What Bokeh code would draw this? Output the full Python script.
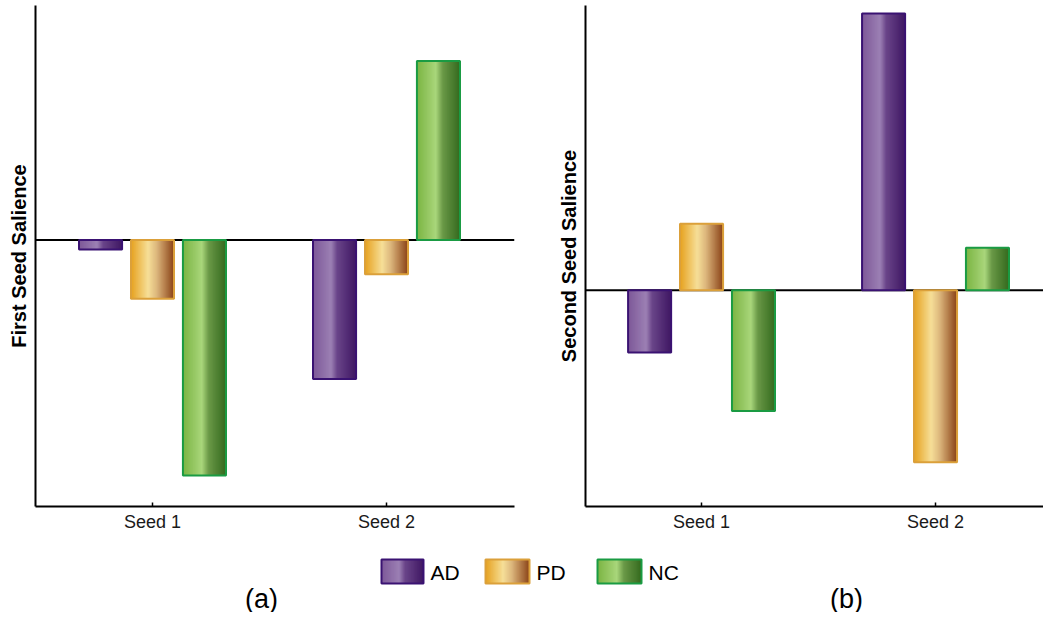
from bokeh.plotting import figure
from bokeh.models import Span, FixedTicker, Range1d, ColumnDataSource
from bokeh.layouts import column, row
from bokeh.embed import file_html
from bokeh.resources import INLINE
from bokeh.core.properties import value

# ---------------- data ----------------
categories = ["Seed 1", "Seed 2"]
groups = ["AD", "PD", "NC"]

first_ad = [-0.04, -0.59]
first_pd = [-0.25, -0.145]
first_nc = [-1.00, 0.76]

second_ad = [-0.265, 1.175]
second_pd = [0.282, -0.731]
second_nc = [-0.513, 0.180]

# ---------------- styles ----------------
FONT = "Liberation Sans"
stops = {
    "AD": [(0.0, "#7d5898"), (0.42, "#9c80b4"), (0.56, "#6a4589"), (1.0, "#3f1763")],
    "PD": [(0.0, "#e6a11f"), (0.40, "#f6df98"), (0.60, "#dcb67c"), (1.0, "#8a4217")],
    "NC": [(0.0, "#7bb443"), (0.44, "#a9d67b"), (0.60, "#6a9847"), (1.0, "#346a1e")],
}
outline = {"AD": "#3a1272", "PD": "#dba03a", "NC": "#1a9b43"}

BAR_W = 0.184
OFFSET = 0.222
NSTRIPE = 40


def hex2rgb(h):
    h = h.lstrip("#")
    return tuple(int(h[i:i + 2], 16) for i in (0, 2, 4))


def interp(st, t):
    for (t0, c0), (t1, c1) in zip(st[:-1], st[1:]):
        if t0 <= t <= t1:
            f = (t - t0) / (t1 - t0)
            a, b = hex2rgb(c0), hex2rgb(c1)
            return "#%02x%02x%02x" % tuple(int(round(a[k] + (b[k] - a[k]) * f)) for k in range(3))
    return st[-1][1]


def stripes(x0, w):
    dw = w / NSTRIPE
    L, R = [], []
    for j in range(NSTRIPE):
        L.append(x0 + j * dw)
        R.append(min(x0 + (j + 3) * dw, x0 + w))
    return L, R


def gradient_bars(p, centers, vals, g, w):
    L, R, T, B, C = [], [], [], [], []
    for c, v in zip(centers, vals):
        top, bot = max(v, 0), min(v, 0)
        l, r = stripes(c - w / 2, w)
        L += l
        R += r
        T += [top] * NSTRIPE
        B += [bot] * NSTRIPE
        C += [interp(stops[g], (j + 0.5) / NSTRIPE) for j in range(NSTRIPE)]
    p.quad(left="l", right="r", top="t", bottom="b", fill_color="c", line_color=None,
           source=ColumnDataSource(dict(l=L, r=R, t=T, b=B, c=C)))


def panel(series, ylabel, width, height, xr, yr, border_left, border_right):
    p = figure(width=width, height=height, output_backend="svg", toolbar_location=None,
               x_range=Range1d(*xr), y_range=Range1d(*yr),
               min_border_left=border_left, min_border_right=border_right,
               min_border_top=5, min_border_bottom=32)
    p.outline_line_color = None
    p.xgrid.visible = False
    p.ygrid.visible = False
    p.background_fill_color = "white"
    p.border_fill_color = "white"

    p.add_layout(Span(location=0, dimension="width", line_color="black", line_width=2,
                      level="underlay"))

    for k, g in enumerate(groups):
        vals = series[g]
        centers = [i + (k - 1) * OFFSET for i in range(len(categories))]
        gradient_bars(p, centers, vals, g, BAR_W)
        p.quad(left=[c - BAR_W / 2 for c in centers], right=[c + BAR_W / 2 for c in centers],
               top=[max(v, 0) for v in vals], bottom=[min(v, 0) for v in vals],
               fill_color=None, line_color=outline[g], line_width=2)

    xa = p.xaxis[0]
    xa.ticker = FixedTicker(ticks=list(range(len(categories))))
    xa.major_label_overrides = {i: c for i, c in enumerate(categories)}
    xa.axis_line_width = 2
    xa.axis_line_color = "black"
    xa.major_tick_in = 4
    xa.major_tick_out = 0
    xa.major_tick_line_width = 1.5
    xa.minor_tick_line_color = None
    xa.major_label_text_font = FONT
    xa.major_label_text_font_size = "18px"
    xa.major_label_text_color = "#1a1a1a"
    xa.major_label_standoff = 5

    ya = p.yaxis[0]
    ya.ticker = FixedTicker(ticks=[])
    ya.axis_line_width = 2
    ya.axis_line_color = "black"
    ya.minor_tick_line_color = None
    ya.major_tick_line_color = None
    ya.axis_label = ylabel
    ya.axis_label_text_font = FONT
    ya.axis_label_text_font_style = "bold"
    ya.axis_label_text_font_size = "20px"
    ya.axis_label_text_color = "black"
    ya.axis_label_standoff = 6
    return p


H = 538
p1 = panel({"AD": first_ad, "PD": first_pd, "NC": first_nc}, "First Seed Salience",
           524, H, (-0.5, 1.547), (-1.132, 0.996), 35, 10)
p2 = panel({"AD": second_ad, "PD": second_pd, "NC": second_nc}, "Second Seed Salience",
           519, H, (-0.496, 1.4615), (-0.919, 1.209), 61, 0)

# ---------------- legend + panel tags ----------------
p3 = figure(width=1043, height=74, output_backend="svg", toolbar_location=None,
            x_range=Range1d(0, 1043), y_range=Range1d(74, 0),
            min_border=0)
p3.outline_line_color = None
p3.axis.visible = False
p3.grid.visible = False

leg_x = [381, 485, 597]
leg_w = [42, 44, 44]
for g, x0, w in zip(groups, leg_x, leg_w):
    L, R = stripes(x0, w)
    C = [interp(stops[g], (j + 0.5) / NSTRIPE) for j in range(NSTRIPE)]
    p3.quad(left=L, right=R, top=[21] * NSTRIPE, bottom=[45] * NSTRIPE, fill_color=C, line_color=None)
    p3.quad(left=[x0], right=[x0 + w], top=[21], bottom=[45], fill_color=None,
            line_color=outline[g], line_width=2)
    p3.text(x=[x0 + w + 7], y=[34], text=[g], text_font=value(FONT), text_font_size="21px",
            text_baseline="middle", text_align="left", text_color="black")

p3.text(x=[261, 846], y=[60, 60], text=["(a)", "(b)"], text_font=value(FONT),
        text_font_size="27px", text_baseline="middle", text_align="center", text_color="black")

layout = column(row(p1, p2), p3)
open("out.html", "w").write(file_html(layout, INLINE))
